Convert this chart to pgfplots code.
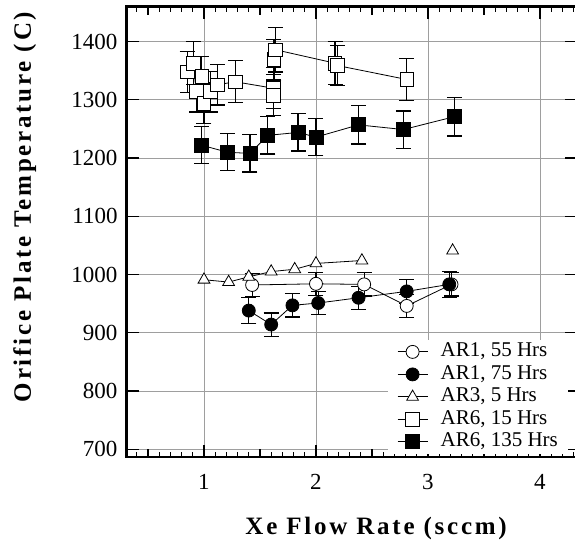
\documentclass[border=0pt]{standalone}
\usepackage{pgfplots}
\pgfplotsset{compat=1.18}
\usepackage{fontspec}
\setmainfont{Liberation Serif}
\newfontfamily\lblfont[LetterSpace=11]{Liberation Serif}
\begin{document}
\begin{tikzpicture}
\begin{axis}[
  name=ax,
  scale only axis,
  width=450.24pt, height=450pt,
  xmin=0.31, xmax=4.33, ymin=687, ymax=1460,
  xtick={1,2,3,4},
  minor xtick={0.4,0.5,...,4.35},
  ytick={700,800,...,1400},
  extra x ticks={0.5,1.5,2.5,3.5},
  extra x tick labels={},
  extra x tick style={xmajorgrids=false, major tick length=8pt},
  xmajorgrids=true, ymajorgrids=true,
  major grid style={color=black!38, line width=0.8pt},
  tick align=inside,
  major tick length=12pt,
  minor tick length=5pt,
  tick style={black, line width=1.2pt},
  minor tick style={black, line width=0.8pt},
  axis line style={line width=2.4pt},
  ticklabel style={font=\fontsize{23}{27}\selectfont},
  /pgf/number format/assume math mode=true,
  /pgf/number format/1000 sep={},
  xticklabel style={inner sep=0pt, anchor=north, yshift=-17pt},
  yticklabel style={inner sep=0pt, anchor=east, xshift=-9pt},
  xlabel={\lblfont\bfseries Xe Flow Rate (sccm)},
  xlabel style={at={(axis description cs:0.554,0)}, anchor=north, yshift=-60pt, inner sep=0pt, font=\fontsize{25}{29}\selectfont},
  ylabel={\lblfont\bfseries Orifice Plate Temperature (C)},
  ylabel style={at={(axis description cs:-0.2265,0.555)}, anchor=center, inner sep=0pt, font=\fontsize{25}{29}\selectfont},
  legend style={draw=none, fill=white, at={(axis cs:2.643,888)}, anchor=north west,
    font=\fontsize{21}{23}\selectfont, inner xsep=9pt, inner ysep=2pt,
    nodes={text height=14pt, text depth=4pt, inner sep=1pt}, row sep=2.5pt},
  legend cell align=left,
  legend image code/.code={\path[draw=none, fill=none] (0pt,0pt) rectangle (42pt,0pt);\draw[mark repeat=2,mark phase=2,#1] plot coordinates {(0pt,0pt) (15pt,0pt) (30pt,0pt)};},
  error bars/error bar style={line width=1.2pt, black},
  error bars/error mark options={rotate=90, mark size=7.5pt, line width=1.2pt, black},
]
% AR1, 55 Hrs
\addplot[black, line width=0.8pt, mark=*, mark size=6.5pt, mark options={solid, fill=white, draw=black, line width=0.8pt},
  error bars/.cd, y dir=both, y explicit]
  table[x=x, y=y, y error=e] {
x y e
1.43 982 20
2.00 984 20
2.43 983 20
2.81 946 20
3.21 983 20
};
\addlegendentry{AR1, 55 Hrs}
% AR1, 75 Hrs
\addplot[black, line width=0.8pt, mark=*, mark size=6.5pt, mark options={solid, fill=black, draw=black, line width=0.8pt},
  error bars/.cd, y dir=both, y explicit]
  table[x=x, y=y, y error=e] {
x y e
1.40 938 22
1.60 914 20
1.79 947 20
2.02 951 20
2.38 960 20
2.81 971 21
3.19 983 22
};
\addlegendentry{AR1, 75 Hrs}
% AR3, 5 Hrs
\addplot[black, line width=0.8pt, mark=triangle*, mark size=6.8pt, mark options={solid, fill=white, draw=black, line width=0.8pt}]
  table[x=x, y=y] {
x y
1.00 991
1.22 987
1.40 996
1.60 1005
1.81 1009
2.00 1019
2.41 1024
};
\addlegendentry{AR3, 5 Hrs}
% AR6, 15 Hrs
\addplot[black, line width=0.8pt, mark=square*, mark size=6.8pt, mark options={solid, fill=white, draw=black, line width=0.8pt},
  error bars/.cd, y dir=both, y explicit]
  table[x=x, y=y, y error=e] {
x y e
0.85 1348 35
0.905 1363 37
0.93 1314 35
0.98 1340 35
1.00 1294 35
1.055 1314 35
1.12 1326 35
1.28 1331 36
1.62 1320 35
1.62 1308 35
1.625 1369 35
1.64 1386 38
2.17 1363 37
2.19 1359 35
2.81 1335 36
};
\addlegendentry{AR6, 15 Hrs}
% AR6, 135 Hrs
\addplot[black, line width=0.8pt, mark=square*, mark size=7pt, mark options={solid, fill=black, draw=black, line width=0.8pt},
  error bars/.cd, y dir=both, y explicit]
  table[x=x, y=y, y error=e] {
x y e
0.98 1222 32
1.21 1210 32
1.41 1208 32
1.57 1239 32
1.84 1244 32
2.00 1236 32
2.38 1257 33
2.78 1249 32
3.235 1271 33
};
\addlegendentry{AR6, 135 Hrs}
% AR3 lone point
\addplot[only marks, mark=triangle*, mark size=6.8pt, mark options={solid, fill=white, draw=black, line width=0.8pt}, forget plot]
  coordinates {(3.22,1041)};
\end{axis}
\pgfresetboundingbox
\path ([xshift=-126.7pt,yshift=-86.3pt]ax.south west) rectangle ([xshift=448.3pt,yshift=6.7pt]ax.north west);
\end{tikzpicture}
\end{document}
